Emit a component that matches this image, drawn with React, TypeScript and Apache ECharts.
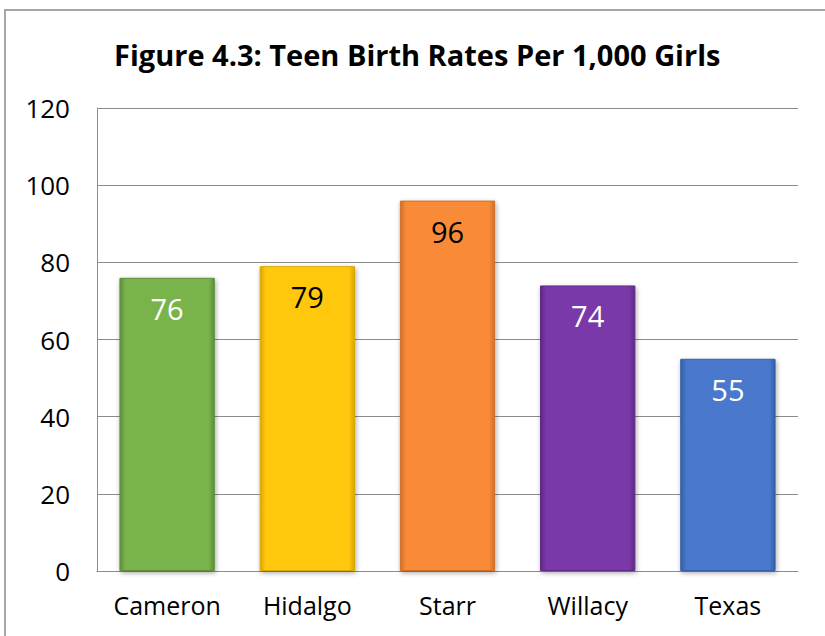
import React, { useEffect, useRef } from "react";
import * as echarts from "echarts";

const categories = ["Cameron", "Hidalgo", "Starr", "Willacy", "Texas"];
const values = [76, 79, 96, 74, 55];
const barColors = ["#78b34c", "#ffc80a", "#f98a39", "#7a37a8", "#4878cc"];
const darkColors = ["#5e8f3a", "#d9a800", "#cf6e2a", "#5e2a84", "#365fa6"];
const labelColors = ["#ffffff", "#000000", "#000000", "#ffffff", "#ffffff"];
const titleText = "Figure 4.3: Teen Birth Rates Per 1,000 Girls";

export default function App() {
  const ref = useRef<HTMLDivElement>(null);
  useEffect(() => {
    const chart = echarts.init(ref.current!, null, { renderer: "svg" });
    const font = "'Open Sans', 'Noto Sans', sans-serif";
    chart.setOption({
      animation: false,
      backgroundColor: "transparent",
      title: {
        text: titleText,
        left: 109,
        top: 35,
        textStyle: { fontFamily: font, fontWeight: "bold", fontSize: 29, color: "#000" },
      },
      grid: { left: 97, right: 27, top: 108, bottom: 65 },
      xAxis: {
        type: "category",
        data: categories,
        axisTick: { show: false },
        axisLine: { lineStyle: { color: "#8c8c8c" } },
        axisLabel: { fontFamily: font, fontSize: 25, color: "#000", margin: 21 },
      },
      yAxis: {
        type: "value",
        min: 0,
        max: 120,
        interval: 20,
        axisLine: { show: true, lineStyle: { color: "#8c8c8c" } },
        axisTick: { show: false },
        splitLine: { lineStyle: { color: "#8c8c8c", width: 1 } },
        axisLabel: { fontFamily: font, fontSize: 26, color: "#000", margin: 27 },
      },
      series: [
        {
          type: "bar",
          barWidth: "68%",
          data: values.map((v, i) => ({
            value: v,
            itemStyle: {
              color: new echarts.graphic.LinearGradient(1, 0, 0, 0, [
                { offset: 0, color: darkColors[i] },
                { offset: 0.06, color: barColors[i] },
                { offset: 0.94, color: barColors[i] },
                { offset: 1, color: darkColors[i] },
              ]),
              borderColor: darkColors[i],
              borderWidth: 1,
              shadowColor: "rgba(0,0,0,0.35)",
              shadowBlur: 5,
              shadowOffsetX: 1,
              shadowOffsetY: 2,
            },
            label: { color: labelColors[i] },
          })),
          label: {
            show: true,
            position: "insideTop",
            distance: 16,
            fontFamily: font,
            fontSize: 29,
          },
        },
      ],
    });
    return () => chart.dispose();
  }, []);
  return (
    <div style={{ position: "fixed", left: 0, top: 0, width: 825, height: 636, background: "#fff", overflow: "hidden" }}>
      <div
        style={{
          position: "absolute",
          left: 4,
          top: 9,
          width: 900,
          height: 700,
          border: "2px solid #a6a6a6",
          boxSizing: "border-box",
        }}
      />
      <div ref={ref} style={{ position: "absolute", left: 0, top: 0, width: 825, height: 636 }} />
    </div>
  );
}
